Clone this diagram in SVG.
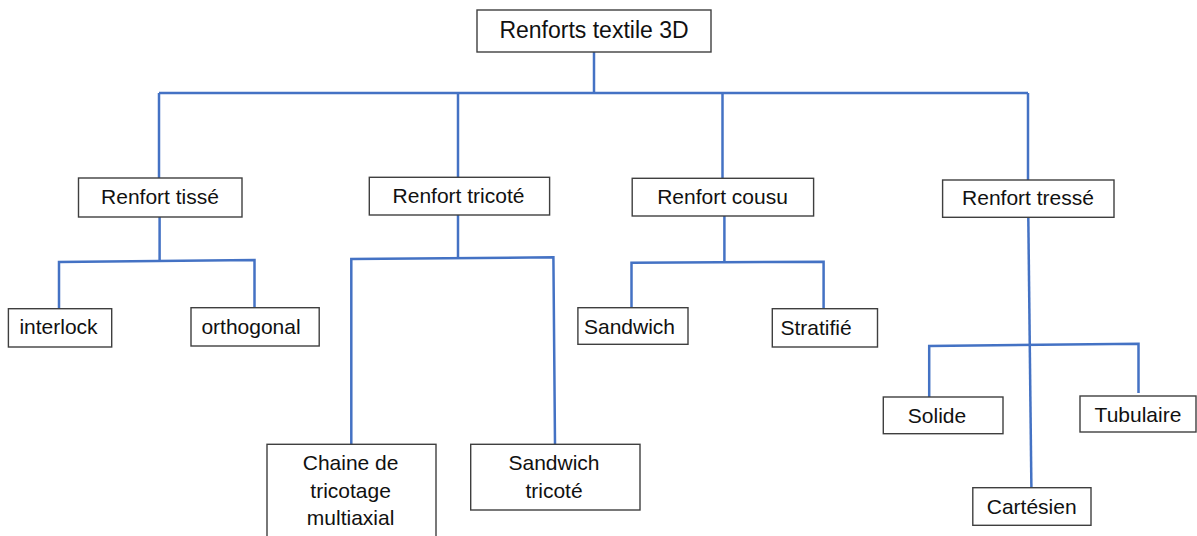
<svg xmlns="http://www.w3.org/2000/svg" width="1197" height="536" viewBox="0 0 1197 536">
<style>
.box{fill:#fff;stroke:#3f3f3f;stroke-width:1.4}
.t{font-family:"Liberation Sans",Arial,sans-serif;font-size:21px;fill:#111;text-anchor:middle}
.root{font-size:23px}
.c{fill:none;stroke:#4472c4;stroke-width:2.5;stroke-linejoin:miter}
</style>
<rect width="1197" height="536" fill="#fff"/>
<g id="connectors">
<path class="c" d="M594,52 V93"/>
<path class="c" d="M159,93 H1028"/>
<path class="c" d="M159,93 V178"/>
<path class="c" d="M458,93 V177"/>
<path class="c" d="M722.5,93 V178"/>
<path class="c" d="M1028,93 V180"/>
<path class="c" d="M159.6,217 V261"/>
<path class="c" d="M59,309 V262 L254.5,260 V308"/>
<path class="c" d="M458,215 V258"/>
<path class="c" d="M351.3,444 V259 L553.4,257.3 L555,444"/>
<path class="c" d="M724.4,216 V262"/>
<path class="c" d="M631.5,308 V262.7 L823.6,261.7 V308.7"/>
<path class="c" d="M1028.3,217 L1031.4,488"/>
<path class="c" d="M929.2,397 V346 L1138.5,343.7 V393"/>
</g>
<g id="root">
<rect class="box" x="477" y="10" width="234" height="42"/>
<text class="t root" x="594" y="38">Renforts textile 3D</text>
</g>
<g id="tisse">
<rect class="box" x="78.5" y="178" width="163.5" height="39"/>
<text class="t" x="160" y="204">Renfort tissé</text>
</g>
<g id="tricote">
<rect class="box" x="369.3" y="177.3" width="180.3" height="37.7"/>
<text class="t" x="458.5" y="203">Renfort tricoté</text>
</g>
<g id="cousu">
<rect class="box" x="632.2" y="178.3" width="181.4" height="37.7"/>
<text class="t" x="722.5" y="204">Renfort cousu</text>
</g>
<g id="tresse">
<rect class="box" x="942.6" y="180" width="171.4" height="37.3"/>
<text class="t" x="1028" y="205">Renfort tressé</text>
</g>
<g id="interlock">
<rect class="box" x="8.4" y="308.7" width="103.3" height="38.3"/>
<text class="t" x="58.5" y="334.3">interlock</text>
</g>
<g id="orthogonal">
<rect class="box" x="191" y="307.7" width="128.2" height="38.3"/>
<text class="t" x="251" y="333.7">orthogonal</text>
</g>
<g id="chaine">
<rect class="box" x="267" y="444.3" width="169" height="100"/>
<text class="t" x="350.6" y="470">Chaine de</text>
<text class="t" x="350.6" y="498.3">tricotage</text>
<text class="t" x="350.6" y="525">multiaxial</text>
</g>
<g id="sandwich-tricote">
<rect class="box" x="470.7" y="444.3" width="169.3" height="65.7"/>
<text class="t" x="554" y="470">Sandwich</text>
<text class="t" x="554" y="497.7">tricoté</text>
</g>
<g id="sandwich">
<rect class="box" x="577.9" y="307.7" width="110.1" height="36.6"/>
<text class="t" x="629.5" y="334.3">Sandwich</text>
</g>
<g id="stratifie">
<rect class="box" x="772.3" y="308.7" width="105.2" height="38.3"/>
<text class="t" x="816" y="335.3">Stratifié</text>
</g>
<g id="solide">
<rect class="box" x="883.3" y="397" width="119.7" height="36.7"/>
<text class="t" x="937" y="422.7">Solide</text>
</g>
<g id="tubulaire">
<rect class="box" x="1080" y="396" width="116" height="36"/>
<text class="t" x="1138" y="422">Tubulaire</text>
</g>
<g id="cartesien">
<rect class="box" x="972.8" y="487.7" width="118.2" height="37.6"/>
<text class="t" x="1031.7" y="514.3">Cartésien</text>
</g>
</svg>
